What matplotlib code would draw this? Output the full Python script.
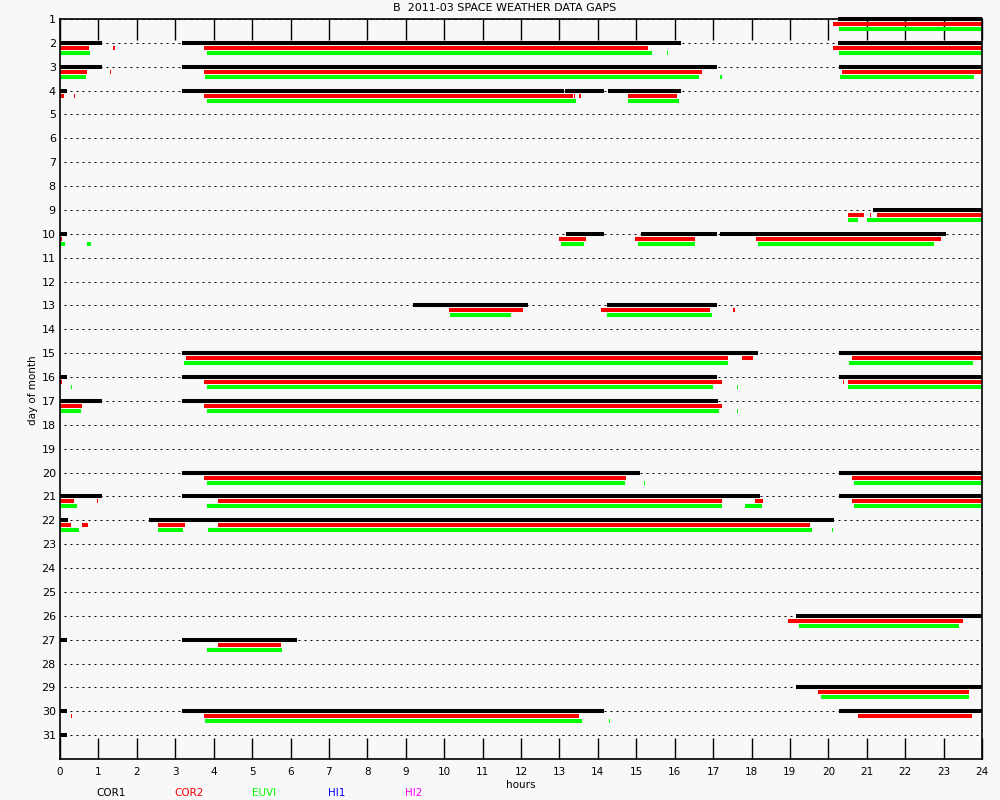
import matplotlib
matplotlib.use("Agg")
import matplotlib.pyplot as plt

# ---- data: (day, start_hour, end_hour) ----
cor1_gaps = [
    (1, 20.25, 24.0),
    (2, 0.0, 1.09), (2, 3.18, 16.16), (2, 20.25, 24.0),
    (3, 0.0, 1.09), (3, 3.18, 17.1), (3, 20.27, 24.0),
    (4, 0.0, 0.18), (4, 3.18, 13.12), (4, 13.15, 14.16), (4, 14.26, 16.16),
    (9, 21.15, 24.0),
    (10, 0.0, 0.19), (10, 13.16, 14.17), (10, 15.12, 17.09), (10, 17.17, 23.07),
    (13, 9.18, 12.17), (13, 14.25, 17.09),
    (15, 3.18, 18.16), (15, 20.27, 24.0),
    (16, 0.0, 0.19), (16, 3.18, 17.09), (16, 20.27, 24.0),
    (17, 0.0, 1.09), (17, 3.18, 17.13),
    (20, 3.18, 15.09), (20, 20.27, 24.0),
    (21, 0.0, 1.09), (21, 3.18, 18.23), (21, 20.27, 24.0),
    (22, 0.0, 0.21), (22, 2.32, 20.16),
    (26, 19.16, 24.0),
    (27, 0.0, 0.19), (27, 3.18, 6.17),
    (29, 19.16, 24.0),
    (30, 0.0, 0.19), (30, 3.18, 14.16), (30, 20.27, 24.0),
    (31, 0.0, 0.19),
]
cor2_gaps = [
    (1, 20.12, 24.0),
    (2, 0.0, 0.75), (2, 1.39, 1.42), (2, 3.75, 15.3), (2, 20.12, 24.0),
    (3, 0.0, 0.7), (3, 1.29, 1.32), (3, 3.75, 16.71), (3, 20.35, 24.0),
    (4, 0.0, 0.1), (4, 0.36, 0.39), (4, 3.75, 13.35), (4, 13.37, 13.4), (4, 13.52, 13.55),
    (4, 14.78, 16.06),
    (9, 20.5, 20.92), (9, 21.09, 21.12), (9, 21.27, 24.0),
    (10, 0.0, 0.06), (10, 12.98, 13.68), (10, 14.98, 16.54), (10, 18.11, 22.92),
    (13, 10.12, 12.05), (13, 14.09, 16.93), (13, 17.53, 17.56),
    (15, 3.28, 17.4), (15, 17.74, 18.05), (15, 20.61, 24.0),
    (16, 0.0, 0.06), (16, 3.75, 17.23), (16, 20.38, 20.41), (16, 20.5, 24.0),
    (17, 0.0, 0.57), (17, 3.75, 17.23),
    (20, 3.75, 14.73), (20, 20.61, 24.0),
    (21, 0.0, 0.37), (21, 0.96, 0.99), (21, 4.1, 17.23), (21, 18.08, 18.31), (21, 20.61, 24.0),
    (22, 0.0, 0.29), (22, 0.57, 0.72), (22, 2.55, 3.25), (22, 4.1, 19.52),
    (26, 18.96, 23.51),
    (27, 4.1, 5.75),
    (29, 19.74, 23.66),
    (30, 0.28, 0.31), (30, 3.75, 13.52), (30, 20.76, 23.73),
]
euvi_gaps = [
    (1, 20.27, 24.0),
    (2, 0.0, 0.78), (2, 3.83, 15.41), (2, 15.79, 15.82), (2, 20.27, 24.0),
    (3, 0.0, 0.68), (3, 3.78, 16.63), (3, 17.19, 17.22), (3, 20.3, 23.79),
    (4, 3.83, 13.43), (4, 14.78, 16.11),
    (9, 20.5, 20.78), (9, 21.01, 24.0),
    (10, 0.0, 0.13), (10, 0.69, 0.8), (10, 13.04, 13.63), (10, 15.04, 16.54), (10, 18.16, 22.76),
    (13, 10.14, 11.75), (13, 14.25, 16.98),
    (15, 3.22, 17.4), (15, 20.55, 23.77),
    (16, 0.28, 0.31), (16, 3.83, 17.01), (16, 17.61, 17.64), (16, 20.5, 24.0),
    (17, 0.0, 0.55), (17, 3.83, 17.16), (17, 17.61, 17.64),
    (20, 3.83, 14.7), (20, 15.19, 15.22), (20, 20.68, 24.0),
    (21, 0.0, 0.44), (21, 3.83, 17.23), (21, 17.82, 18.27), (21, 20.68, 24.0),
    (22, 0.0, 0.49), (22, 2.55, 3.19), (22, 3.86, 19.58), (22, 20.1, 20.13),
    (26, 19.23, 23.41),
    (27, 3.83, 5.78),
    (29, 19.82, 23.66),
    (30, 3.78, 13.58), (30, 14.29, 14.32),
]
hi1_gaps = []
hi2_gaps = []

instruments = ["COR1", "COR2", "EUVI", "HI1", "HI2"]
inst_colors = ["#000000", "#ff0000", "#00ff00", "#0000ff", "#ff00ff"]
days = list(range(1, 32))
hour_ticks = list(range(0, 25))

# ---- figure ----
bg = "#f8f8f8"
fig = plt.figure(figsize=(10, 8), dpi=100, facecolor=bg)
ax = fig.add_axes([0.06, 0.05125, 0.922, 0.925], facecolor=bg)
ax.set_xlim(0, 24)
ax.set_ylim(32, 1)

# dotted day lines
for d in days:
    ax.plot([0.1, 23.9], [d, d], color="black", lw=0.72,
            dashes=(2, 4), zorder=1)

offsets = [0.0, 0.21, 0.42, 0.63, 0.84]
all_gaps = [cor1_gaps, cor2_gaps, euvi_gaps, hi1_gaps, hi2_gaps]
for gaps, col, off in zip(all_gaps, inst_colors, offsets):
    for d, s, e in gaps:
        ax.plot([s, e], [d + off, d + off], color=col, lw=2.9,
                solid_capstyle="butt", zorder=3, clip_on=False)

ax.set_xticks(hour_ticks)
ax.set_xticklabels([str(h) for h in hour_ticks])
ax.tick_params(axis="x", direction="in", length=15, width=1, top=True,
               bottom=True, pad=6, labelsize=7.5)
ax.set_yticks(days)
ax.set_yticklabels([str(d) for d in days])
ax.tick_params(axis="y", length=0, pad=3, labelsize=8)
for sp in ax.spines.values():
    sp.set_linewidth(1.2)
    sp.set_zorder(4)

fig.text(0.505, 0.99, "B  2011-03 SPACE WEATHER DATA GAPS", ha="center",
         va="center", fontsize=8)
fig.text(0.521, 0.019, "hours", ha="center", va="center", fontsize=7.5)
fig.text(0.033, 0.512, "day of month", ha="center", va="center",
         rotation=90, fontsize=7.5)
leg_x = [0.111, 0.189, 0.264, 0.337, 0.414]
for name, col, x in zip(instruments, inst_colors, leg_x):
    fig.text(x, 0.009, name, color=col, ha="center", va="center", fontsize=7.5)

fig.savefig("out.png", dpi=100, facecolor=bg)
